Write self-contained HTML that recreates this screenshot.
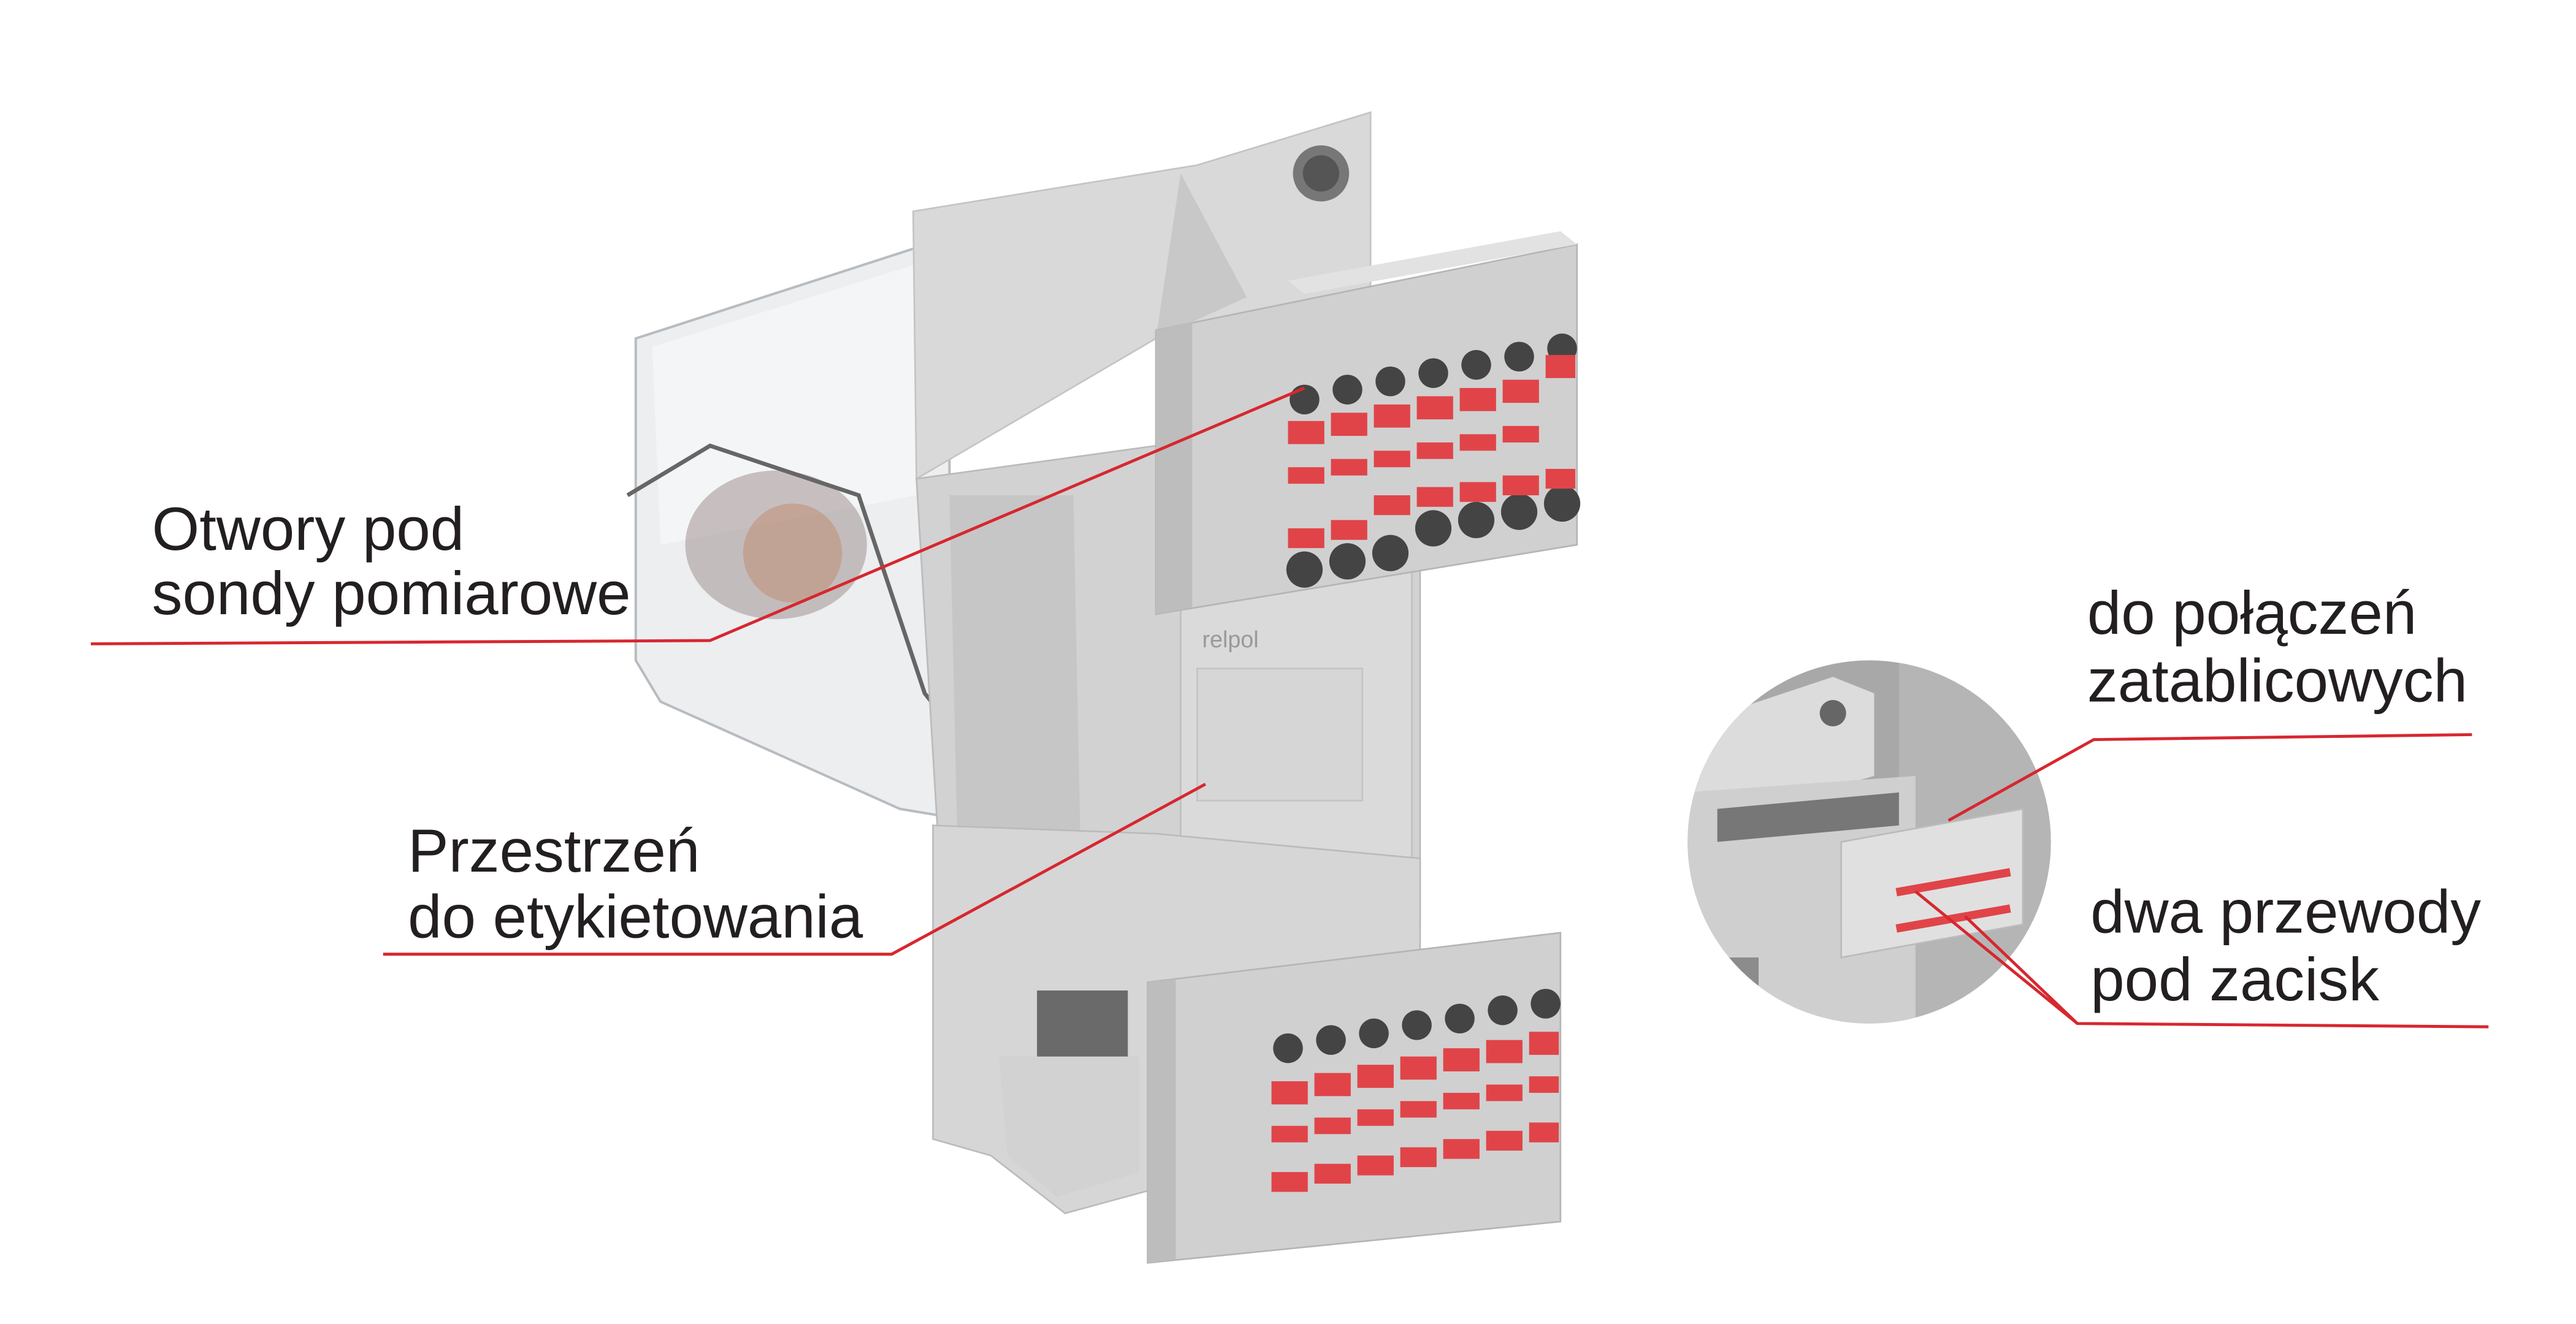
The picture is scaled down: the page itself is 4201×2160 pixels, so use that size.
<!DOCTYPE html>
<html><head><meta charset="utf-8"><style>
html,body{margin:0;padding:0;background:#fff;}
svg{display:block;}
text{font-family:"Liberation Sans",sans-serif;fill:#231f20;font-size:37px;}
</style></head><body>
<svg width="4201" height="2160" viewBox="0 0 1560 802" xmlns="http://www.w3.org/2000/svg">
<rect width="1560" height="802" fill="#fff"/>
<!-- transparent relay -->
<polygon points="385,205 555,150 575,160 575,495 545,490 400,425 385,400" fill="#eceef0" stroke="#b8bcc0" stroke-width="1.5"/>
<polygon points="395,210 555,160 555,300 400,330" fill="#f4f5f6"/>
<ellipse cx="470" cy="330" rx="55" ry="45" fill="#9a8a88" opacity="0.5"/>
<ellipse cx="480" cy="335" rx="30" ry="30" fill="#c08a70" opacity="0.5"/>
<path d="M380,300 L430,270 L520,300 L560,420 L600,470 L660,455" fill="none" stroke="#666" stroke-width="2.5"/>
<!-- top block -->
<polygon points="553,128 725,100 830,68 830,185 700,205 555,290" fill="#d9d9d9" stroke="#c4c4c4"/>
<circle cx="800" cy="105" r="17" fill="#777"/>
<circle cx="800" cy="105" r="11" fill="#555"/>
<polygon points="715,105 755,180 700,205" fill="#c8c8c8"/>
<!-- central body -->
<polygon points="555,290 700,270 860,300 860,560 700,560 570,540" fill="#d2d2d2" stroke="#bbb"/>
<polygon points="575,300 650,300 655,545 580,520" fill="#c6c6c6"/>
<polygon points="715,340 855,330 855,545 715,555" fill="#dadada" stroke="#c0c0c0"/>
<rect x="725" y="405" width="100" height="80" fill="#d6d6d6" stroke="#c4c4c4"/>
<text x="728" y="392" style="font-size:14px;fill:#999">relpol</text>
<!-- bottom body -->
<polygon points="565,500 700,505 860,520 860,600 700,600 700,720 645,735 600,700 565,690" fill="#d6d6d6" stroke="#bbb"/>
<rect x="628" y="600" width="55" height="60" fill="#6a6a6a"/>
<polygon points="605,640 690,640 690,710 640,725 610,700" fill="#d2d2d2"/>
<!-- top connector -->
<polygon points="700,200 955,148 955,330 700,372" fill="#d0d0d0" stroke="#b5b5b5"/>
<polygon points="700,200 722,195 722,368 700,372" fill="#bdbdbd"/>
<polygon points="780,170 945,140 955,148 790,178" fill="#e2e2e2"/>
<g fill="#444">
<circle cx="790" cy="242" r="9"/><circle cx="816" cy="236" r="9"/><circle cx="842" cy="231" r="9"/><circle cx="868" cy="226" r="9"/><circle cx="894" cy="221" r="9"/><circle cx="920" cy="216" r="9"/><circle cx="946" cy="211" r="9"/>
<circle cx="790" cy="345" r="11"/><circle cx="816" cy="340" r="11"/><circle cx="842" cy="335" r="11"/><circle cx="868" cy="320" r="11"/><circle cx="894" cy="315" r="11"/><circle cx="920" cy="310" r="11"/><circle cx="946" cy="305" r="11"/>
</g>
<g fill="#e04448">
<rect x="780" y="255" width="22" height="14"/><rect x="806" y="250" width="22" height="14"/><rect x="832" y="245" width="22" height="14"/><rect x="858" y="240" width="22" height="14"/><rect x="884" y="235" width="22" height="14"/><rect x="910" y="230" width="22" height="14"/><rect x="936" y="215" width="18" height="14"/>
<rect x="780" y="283" width="22" height="10"/><rect x="806" y="278" width="22" height="10"/><rect x="832" y="273" width="22" height="10"/><rect x="858" y="268" width="22" height="10"/><rect x="884" y="263" width="22" height="10"/><rect x="910" y="258" width="22" height="10"/>
<rect x="780" y="320" width="22" height="12"/><rect x="806" y="315" width="22" height="12"/><rect x="832" y="300" width="22" height="12"/><rect x="858" y="295" width="22" height="12"/><rect x="884" y="292" width="22" height="12"/><rect x="910" y="288" width="22" height="12"/><rect x="936" y="284" width="18" height="12"/>
</g>
<!-- bottom connector -->
<polygon points="695,595 945,565 945,740 695,765" fill="#d0d0d0" stroke="#b5b5b5"/>
<polygon points="695,595 712,593 712,763 695,765" fill="#bdbdbd"/>
<g fill="#444">
<circle cx="780" cy="635" r="9"/><circle cx="806" cy="630" r="9"/><circle cx="832" cy="626" r="9"/><circle cx="858" cy="621" r="9"/><circle cx="884" cy="617" r="9"/><circle cx="910" cy="612" r="9"/><circle cx="936" cy="608" r="9"/>
</g>
<g fill="#e04448">
<rect x="770" y="655" width="22" height="14"/><rect x="796" y="650" width="22" height="14"/><rect x="822" y="645" width="22" height="14"/><rect x="848" y="640" width="22" height="14"/><rect x="874" y="635" width="22" height="14"/><rect x="900" y="630" width="22" height="14"/><rect x="926" y="625" width="18" height="14"/>
<rect x="770" y="682" width="22" height="10"/><rect x="796" y="677" width="22" height="10"/><rect x="822" y="672" width="22" height="10"/><rect x="848" y="667" width="22" height="10"/><rect x="874" y="662" width="22" height="10"/><rect x="900" y="657" width="22" height="10"/><rect x="926" y="652" width="18" height="10"/>
<rect x="770" y="710" width="22" height="12"/><rect x="796" y="705" width="22" height="12"/><rect x="822" y="700" width="22" height="12"/><rect x="848" y="695" width="22" height="12"/><rect x="874" y="690" width="22" height="12"/><rect x="900" y="685" width="22" height="12"/><rect x="926" y="680" width="18" height="12"/>
</g>
<!-- inset circle -->
<defs><clipPath id="c"><circle cx="1132" cy="510" r="110"/></clipPath></defs>
<circle cx="1132" cy="510" r="110" fill="#a8a8a8"/>
<g clip-path="url(#c)">
<rect x="1150" y="400" width="100" height="230" fill="#b5b5b5"/>
<polygon points="1020,440 1110,410 1135,420 1135,470 1100,480 1020,500" fill="#dcdcdc"/>
<circle cx="1110" cy="432" r="8" fill="#666"/>
<polygon points="1020,480 1160,470 1160,620 1020,620" fill="#cfcfcf"/>
<polygon points="1040,490 1150,480 1150,500 1040,510" fill="#777"/>
<polygon points="1115,510 1225,490 1225,560 1115,580" fill="#e0e0e0" stroke="#bbb"/>
<g fill="#e04448"><rect x="1148" y="538" width="70" height="5" transform="rotate(-10 1148 538)"/><rect x="1148" y="560" width="70" height="5" transform="rotate(-10 1148 560)"/></g>
<rect x="1020" y="580" width="45" height="40" fill="#8c8c8c"/>
</g>
<!-- leaders -->
<g stroke="#d7272f" stroke-width="1.8" fill="none">
<polyline points="55,390 430,388 790,235"/>
<polyline points="232,578 540,578 730,475"/>
<polyline points="1497,445 1268,448 1180,497"/>
<polyline points="1507,622 1258,620 1160,540"/>
<line x1="1258" y1="620" x2="1190" y2="555"/>
</g>
<text x="92" y="333">Otwory pod</text>
<text x="92" y="372">sondy pomiarowe</text>
<text x="247" y="528">Przestrzeń</text>
<text x="247" y="568">do etykietowania</text>
<text x="1264" y="384">do połączeń</text>
<text x="1264" y="425">zatablicowych</text>
<text x="1266" y="565">dwa przewody</text>
<text x="1266" y="606">pod zacisk</text>
</svg>
</body></html>
